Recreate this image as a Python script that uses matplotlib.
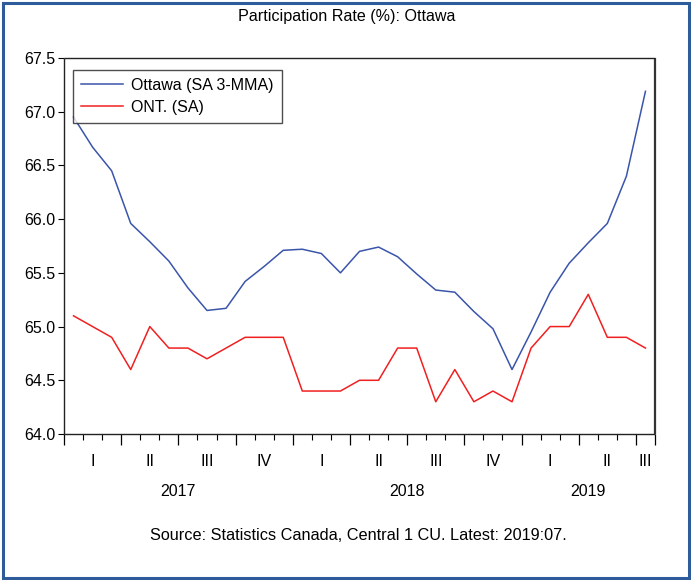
import matplotlib
matplotlib.use("Agg")
import matplotlib.pyplot as plt
from matplotlib.patches import Rectangle
from matplotlib.ticker import FixedLocator, NullFormatter
import matplotlib.transforms as mtransforms

plt.rcParams['font.family'] = ['Liberation Sans', 'DejaVu Sans']

# Monthly data 2017:01 - 2019:07
ottawa = [66.95, 66.67, 66.45, 65.96, 65.79, 65.61, 65.36, 65.15, 65.17, 65.42, 65.56, 65.71,
          65.72, 65.68, 65.50, 65.70, 65.74, 65.65, 65.49, 65.34, 65.32, 65.14, 64.98, 64.60,
          64.95, 65.32, 65.59, 65.78, 65.96, 66.40, 67.19]
ontario = [65.1, 65.0, 64.9, 64.6, 65.0, 64.8, 64.8, 64.7, 64.8, 64.9, 64.9, 64.9,
           64.4, 64.4, 64.4, 64.5, 64.5, 64.8, 64.8, 64.3, 64.6, 64.3, 64.4, 64.3,
           64.8, 65.0, 65.0, 65.3, 64.9, 64.9, 64.8]
quarter_labels = ['I', 'II', 'III', 'IV', 'I', 'II', 'III', 'IV', 'I', 'II', 'III']
years = ['2017', '2018', '2019']
yticks = [64.0, 64.5, 65.0, 65.5, 66.0, 66.5, 67.0, 67.5]
title = 'Participation Rate (%): Ottawa'
source = 'Source: Statistics Canada, Central 1 CU. Latest: 2019:07.'
series_names = ['Ottawa (SA 3-MMA)', 'ONT. (SA)']

W, H = 691, 580
fig = plt.figure(figsize=(W / 100, H / 100), dpi=100)

# outer border
fig.patches.append(Rectangle((2.5 / W, 2.5 / H), (W - 5) / W, (H - 5) / H,
                             transform=fig.transFigure, fill=False,
                             edgecolor='#2E5C9A', linewidth=2.2))

L, R, T, B = 64, 655, 58, 434
ax = fig.add_axes([L / W, 1 - B / H, (R - L) / W, (B - T) / H])

n = len(ottawa)
x = list(range(n))
ax.plot(x, ottawa, color='#3A55AA', lw=1.1, label=series_names[0])
ax.plot(x, ontario, color='#F02020', lw=1.1, label=series_names[1])

ax.set_xlim(-0.5, n - 0.5)
ax.set_ylim(64.0, 67.5)
ax.set_yticks(yticks)
ax.set_yticklabels([f'{v:.1f}' for v in yticks], fontsize=11.5)
ax.tick_params(axis='y', direction='out', length=4, width=0.8, pad=2)

major = [b - 0.5 for b in range(0, n + 1, 3)] + [n - 0.5]
minor = [b - 0.5 for b in range(0, n + 1)]
ax.xaxis.set_major_locator(FixedLocator(major))
ax.xaxis.set_minor_locator(FixedLocator(minor))
ax.xaxis.set_major_formatter(NullFormatter())
ax.tick_params(axis='x', which='major', direction='out', length=8, width=0.9)
ax.tick_params(axis='x', which='minor', direction='out', length=4, width=0.8)

for s in ax.spines.values():
    s.set_linewidth(1.0)
    s.set_color('#222222')
    s.set_capstyle('butt')
ax.spines['right'].set_linewidth(1.6)
ax.spines['right'].set_color('#333333')

trans = mtransforms.blended_transform_factory(ax.transData, fig.transFigure)
# quarter labels
for q, lab in enumerate(quarter_labels):
    start = q * 3
    end = min(start + 3, n)
    cx = (start + end - 1) / 2
    ax.text(cx, 1 - 462 / H, lab, transform=trans, ha='center', va='center', fontsize=11.5)
# year labels
for k, yr in enumerate(years):
    start = k * 12
    end = min(start + 12, n)
    cx = (start + end - 1) / 2
    ax.text(cx, 1 - 491 / H, yr, transform=trans, ha='center', va='center', fontsize=11.5)

fig.text(347 / W, 1 - 16 / H, title, ha='center', va='center', fontsize=11.6)
fig.text(358 / W, 1 - 536 / H, source, ha='center', va='center', fontsize=11.7)

leg = ax.legend(loc='upper left', bbox_to_anchor=((73 - L) / (R - L), 1 - (70 - T) / (B - T)),
                frameon=True, fancybox=False, shadow=False, fontsize=11.5,
                borderpad=0.5, handlelength=2.6, handletextpad=0.55, labelspacing=0.42,
                borderaxespad=0)
leg.get_frame().set_edgecolor('#222222')
leg.get_frame().set_linewidth(1.0)
leg.set_zorder(10)

fig.savefig('out.png', dpi=100)
